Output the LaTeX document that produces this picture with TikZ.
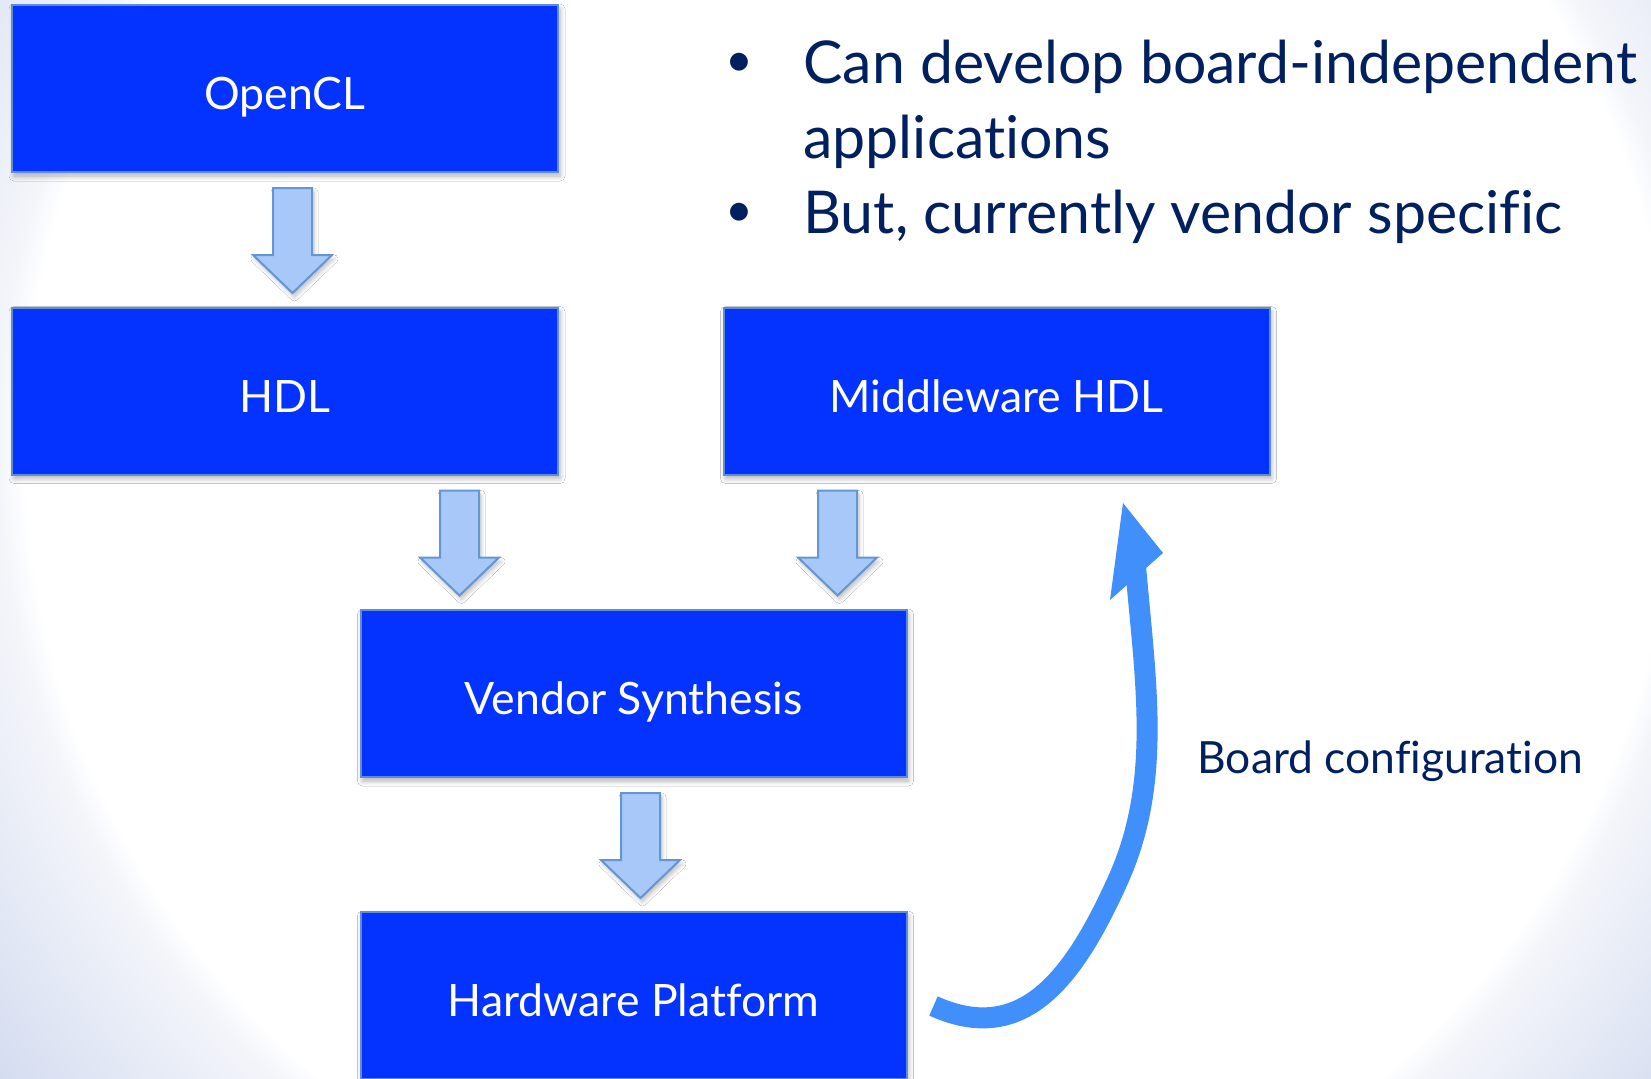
\documentclass[tikz,border=0pt]{standalone}
\usepackage{fontspec}
\setmainfont{Lato}[Ligatures={NoCommon,NoRare}]
\usetikzlibrary{shadows.blur,calc}

\definecolor{boxblue}{RGB}{4,51,255}
\definecolor{boxedge}{RGB}{95,140,215}
\definecolor{arrowfill}{RGB}{168,200,250}
\definecolor{arrowedge}{RGB}{100,150,210}
\definecolor{curveblue}{RGB}{64,143,250}
\definecolor{navy}{RGB}{0,32,96}
\definecolor{bgmid}{RGB}{243,245,250}
\definecolor{bgedge}{RGB}{212,220,240}

% slide background: white centre fading to a pale blue towards the corners
\pgfdeclareradialshading{slidebg}{\pgfpoint{0bp}{0bp}}{%
  color(0bp)=(white); color(18.75bp)=(white); color(19.4bp)=(bgmid);
  color(24.1bp)=(bgedge); color(50bp)=(bgedge)}

\tikzset{
  stage/.style={draw=boxedge, line width=1pt, fill=boxblue, text=white,
    minimum width=273pt, minimum height=83.5pt, inner sep=0pt,
    text height=25pt, text depth=4pt,
    font=\fontsize{22.3}{27}\selectfont,
    blur shadow={shadow xshift=1pt, shadow yshift=-2pt, shadow blur radius=2.5pt,
      shadow blur steps=6, shadow opacity=30}},
  barrow/.style={draw=arrowedge, line width=1pt, fill=arrowfill, line join=miter,
    blur shadow={shadow xshift=1pt, shadow yshift=-2pt, shadow blur radius=2pt,
      shadow blur steps=5, shadow opacity=25}},
  blockarrow/.pic={
    \draw[barrow] (-19.5,0) -- (19.5,0) -- (19.5,67) -- (39.5,67) -- (0,105)
      -- (-39.5,67) -- (-19.5,67) -- cycle;},
  bullettext/.style={anchor=base west, text=navy, inner sep=0pt,
    font=\fontsize{29.5}{35}\selectfont},
  bulletdot/.style={anchor=base, text=navy, inner sep=0pt,
    font=\fontsize{24}{28}\selectfont},
  curveshaft/.style={draw=curveblue, line width=10.5pt, line cap=butt},
  curvehead/.style={fill=curveblue}
}

\begin{document}
\begin{tikzpicture}[x=0.5pt, y=-0.5pt]
  \useasboundingbox (0,0) rectangle (1651,1078);
  \clip (0,0) rectangle (1651,1078);

  % background
  \fill[white] (0,0) rectangle (1651,1078);
  \shade[shading=slidebg] (850,445) circle (1100);

  % stages
  \node[stage] (opencl) at (285,88.5)    {OpenCL};
  \node[stage] (hdl)    at (285,391)     {HDL};
  \node[stage] (mhdl)   at (996.5,391)   {Middleware HDL};
  \node[stage] (vendor) at (633.5,693.5) {Vendor Synthesis};
  \node[stage] (hw)     at (633.5,995.5) {Hardware Platform};

  % block arrows between stages
  \path (opencl.south) ++(7.5,15)   pic {blockarrow};
  \path (hdl.south)    ++(174.5,15) pic {blockarrow};
  \path (mhdl.south)   ++(-159,15)  pic {blockarrow};
  \path (vendor.south) ++(7,15)     pic {blockarrow};

  % board configuration feedback arrow
  \coordinate (cfgtail)  at ([shift={(26,10.5)}]hw.east);
  \coordinate (cfgbend)  at (1118,880);
  \coordinate (cfgbase)  at (1135,560);
  \coordinate (cfgtip)   at (1123,503);
  \coordinate (cfgright) at (1163,553);
  \coordinate (cfgleft)  at (1110,600);
  \draw[curveshaft] (cfgtail) .. controls (1022,1046) and (1073,980) .. (cfgbend)
    .. controls (1163,780) and (1145,680) .. (cfgbase);
  \fill[curvehead] (cfgtip) -- (cfgright) -- (cfgleft) -- cycle;
  \node[anchor=base west, text=navy, inner sep=0pt,
    font=\fontsize{22.2}{26}\selectfont] (cfglabel) at (1197,773) {Board configuration};

  % bullet points
  \node[bulletdot]  (b1) at (739,76)  {•};
  \node[bullettext] (t1) at (803,83)  {Can develop board-independent};
  \node[bullettext] (t2) at (803,158) {applications};
  \node[bulletdot]  (b2) at (739,226) {•};
  \node[bullettext] (t3) at (803,233) {But, currently vendor specific};
\end{tikzpicture}
\end{document}
